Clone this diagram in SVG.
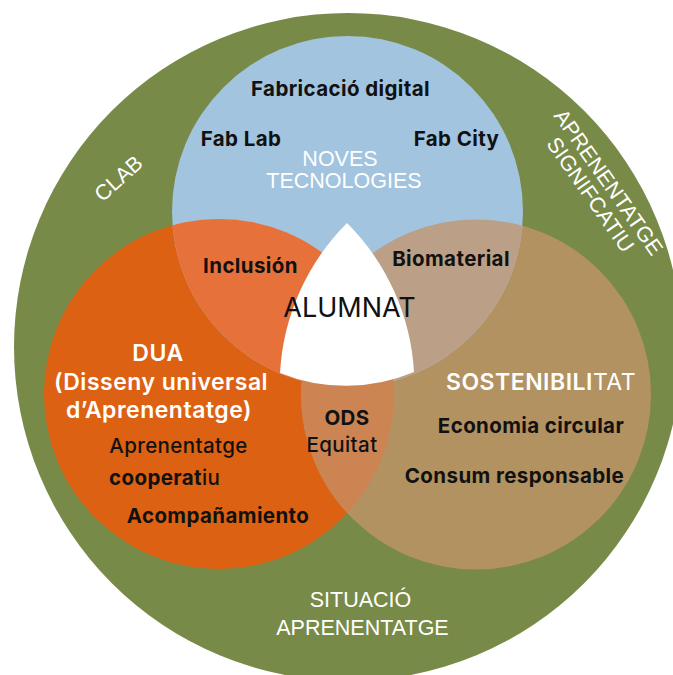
<svg xmlns="http://www.w3.org/2000/svg" width="673" height="675" viewBox="0 0 673 675">
  <defs>
    <clipPath id="clipBlue"><circle cx="347.5" cy="211.5" r="175.5"/></clipPath>
    <clipPath id="clipOrange"><circle cx="219" cy="394" r="175"/></clipPath>
    <clipPath id="clipTan"><circle cx="476" cy="394.5" r="175"/></clipPath>
  </defs>
  <style>
    .lbl { font-family: Inter, "Noto Sans", "Liberation Sans", sans-serif; font-weight: 700; font-size: 20.5px; letter-spacing: 0.4px; fill: #111; text-anchor: middle; }
    .reg { font-weight: 500; }
    .start { text-anchor: start; }
    .cap { font-family: "Liberation Sans", Arial, sans-serif; font-size: 21.5px; fill: #ffffff; text-anchor: middle; }
    .head { font-family: Inter, "Noto Sans", "Liberation Sans", sans-serif; font-weight: 600; font-size: 23px; letter-spacing: 0.5px; fill: #ffffff; text-anchor: middle; }
  </style>
  <rect width="673" height="675" fill="#ffffff"/>

  <g id="situacio-aprenentatge">
    <circle cx="348" cy="347" r="334" fill="#788a48"/>
  </g>

  <g id="dua">
    <circle cx="219" cy="394" r="175" fill="#dd6112"/>
  </g>
  <g id="sostenibilitat">
    <circle cx="476" cy="394.5" r="175" fill="#b39261"/>
  </g>
  <g id="noves-tecnologies">
    <circle cx="347.5" cy="211.5" r="175.5" fill="#a2c4de"/>
  </g>

  <g id="overlaps">
    <g clip-path="url(#clipBlue)">
      <circle cx="219" cy="394" r="175" fill="#e6713b"/>
      <circle cx="476" cy="394.5" r="175" fill="#bb9f87"/>
    </g>
    <g clip-path="url(#clipOrange)">
      <g clip-path="url(#clipTan)">
        <rect x="250" y="200" width="200" height="350" fill="#cc8453"/>
      </g>
    </g>
  </g>

  <g id="alumnat">
    <path d="M347,223 A230,230 0 0,1 414,372 A175.5,175.5 0 0,1 280,373 A230,230 0 0,1 347,223 Z" fill="#ffffff"/>
    <text x="349.5" y="317" font-family="Inter, 'Noto Sans', 'Liberation Sans', sans-serif" font-size="27" fill="#111" text-anchor="middle">ALUMNAT</text>
  </g>

  <g id="labels-outer">
    <text class="cap" transform="translate(118,178) rotate(-42)" y="8" font-size="23">CLAB</text>
    <g transform="translate(600,188) rotate(55)">
      <text class="cap" x="0" y="-3">APRENENTATGE</text>
      <text class="cap" x="0" y="19">SIGNIFCATIU</text>
    </g>
    <text class="cap" x="360.5" y="607">SITUACIÓ</text>
    <text class="cap" x="362.5" y="635">APRENENTATGE</text>
  </g>

  <g id="labels-noves">
    <text class="lbl" x="340.5" y="96">Fabricació digital</text>
    <text class="lbl" x="241" y="146">Fab Lab</text>
    <text class="lbl" x="456.5" y="146">Fab City</text>
    <text class="cap" x="340" y="166" font-size="21">NOVES</text>
    <text class="cap" x="344" y="188" font-size="21">TECNOLOGIES</text>
  </g>

  <g id="labels-overlaps">
    <text class="lbl" x="250.5" y="273">Inclusión</text>
    <text class="lbl" x="451" y="266">Biomaterial</text>
    <text class="lbl" x="347" y="425">ODS</text>
    <text class="lbl reg" x="342" y="452">Equitat</text>
  </g>

  <g id="labels-dua">
    <text class="head" x="158" y="361">DUA</text>
    <text class="head" x="161" y="390">(Disseny universal</text>
    <text class="head" x="159" y="418">d’Aprenentatge)</text>
    <text class="lbl reg" x="178.5" y="453">Aprenentatge</text>
    <text class="lbl start" x="109" y="485">cooperat<tspan font-weight="500">iu</tspan></text>
    <text class="lbl" x="218" y="523">Acompañamiento</text>
  </g>

  <g id="labels-sostenibilitat">
    <text class="head" x="541" y="390">SOSTENIBILI<tspan font-weight="400">TAT</tspan></text>
    <text class="lbl" x="531" y="433">Economia circular</text>
    <text class="lbl" x="514.5" y="483">Consum responsable</text>
  </g>
</svg>
